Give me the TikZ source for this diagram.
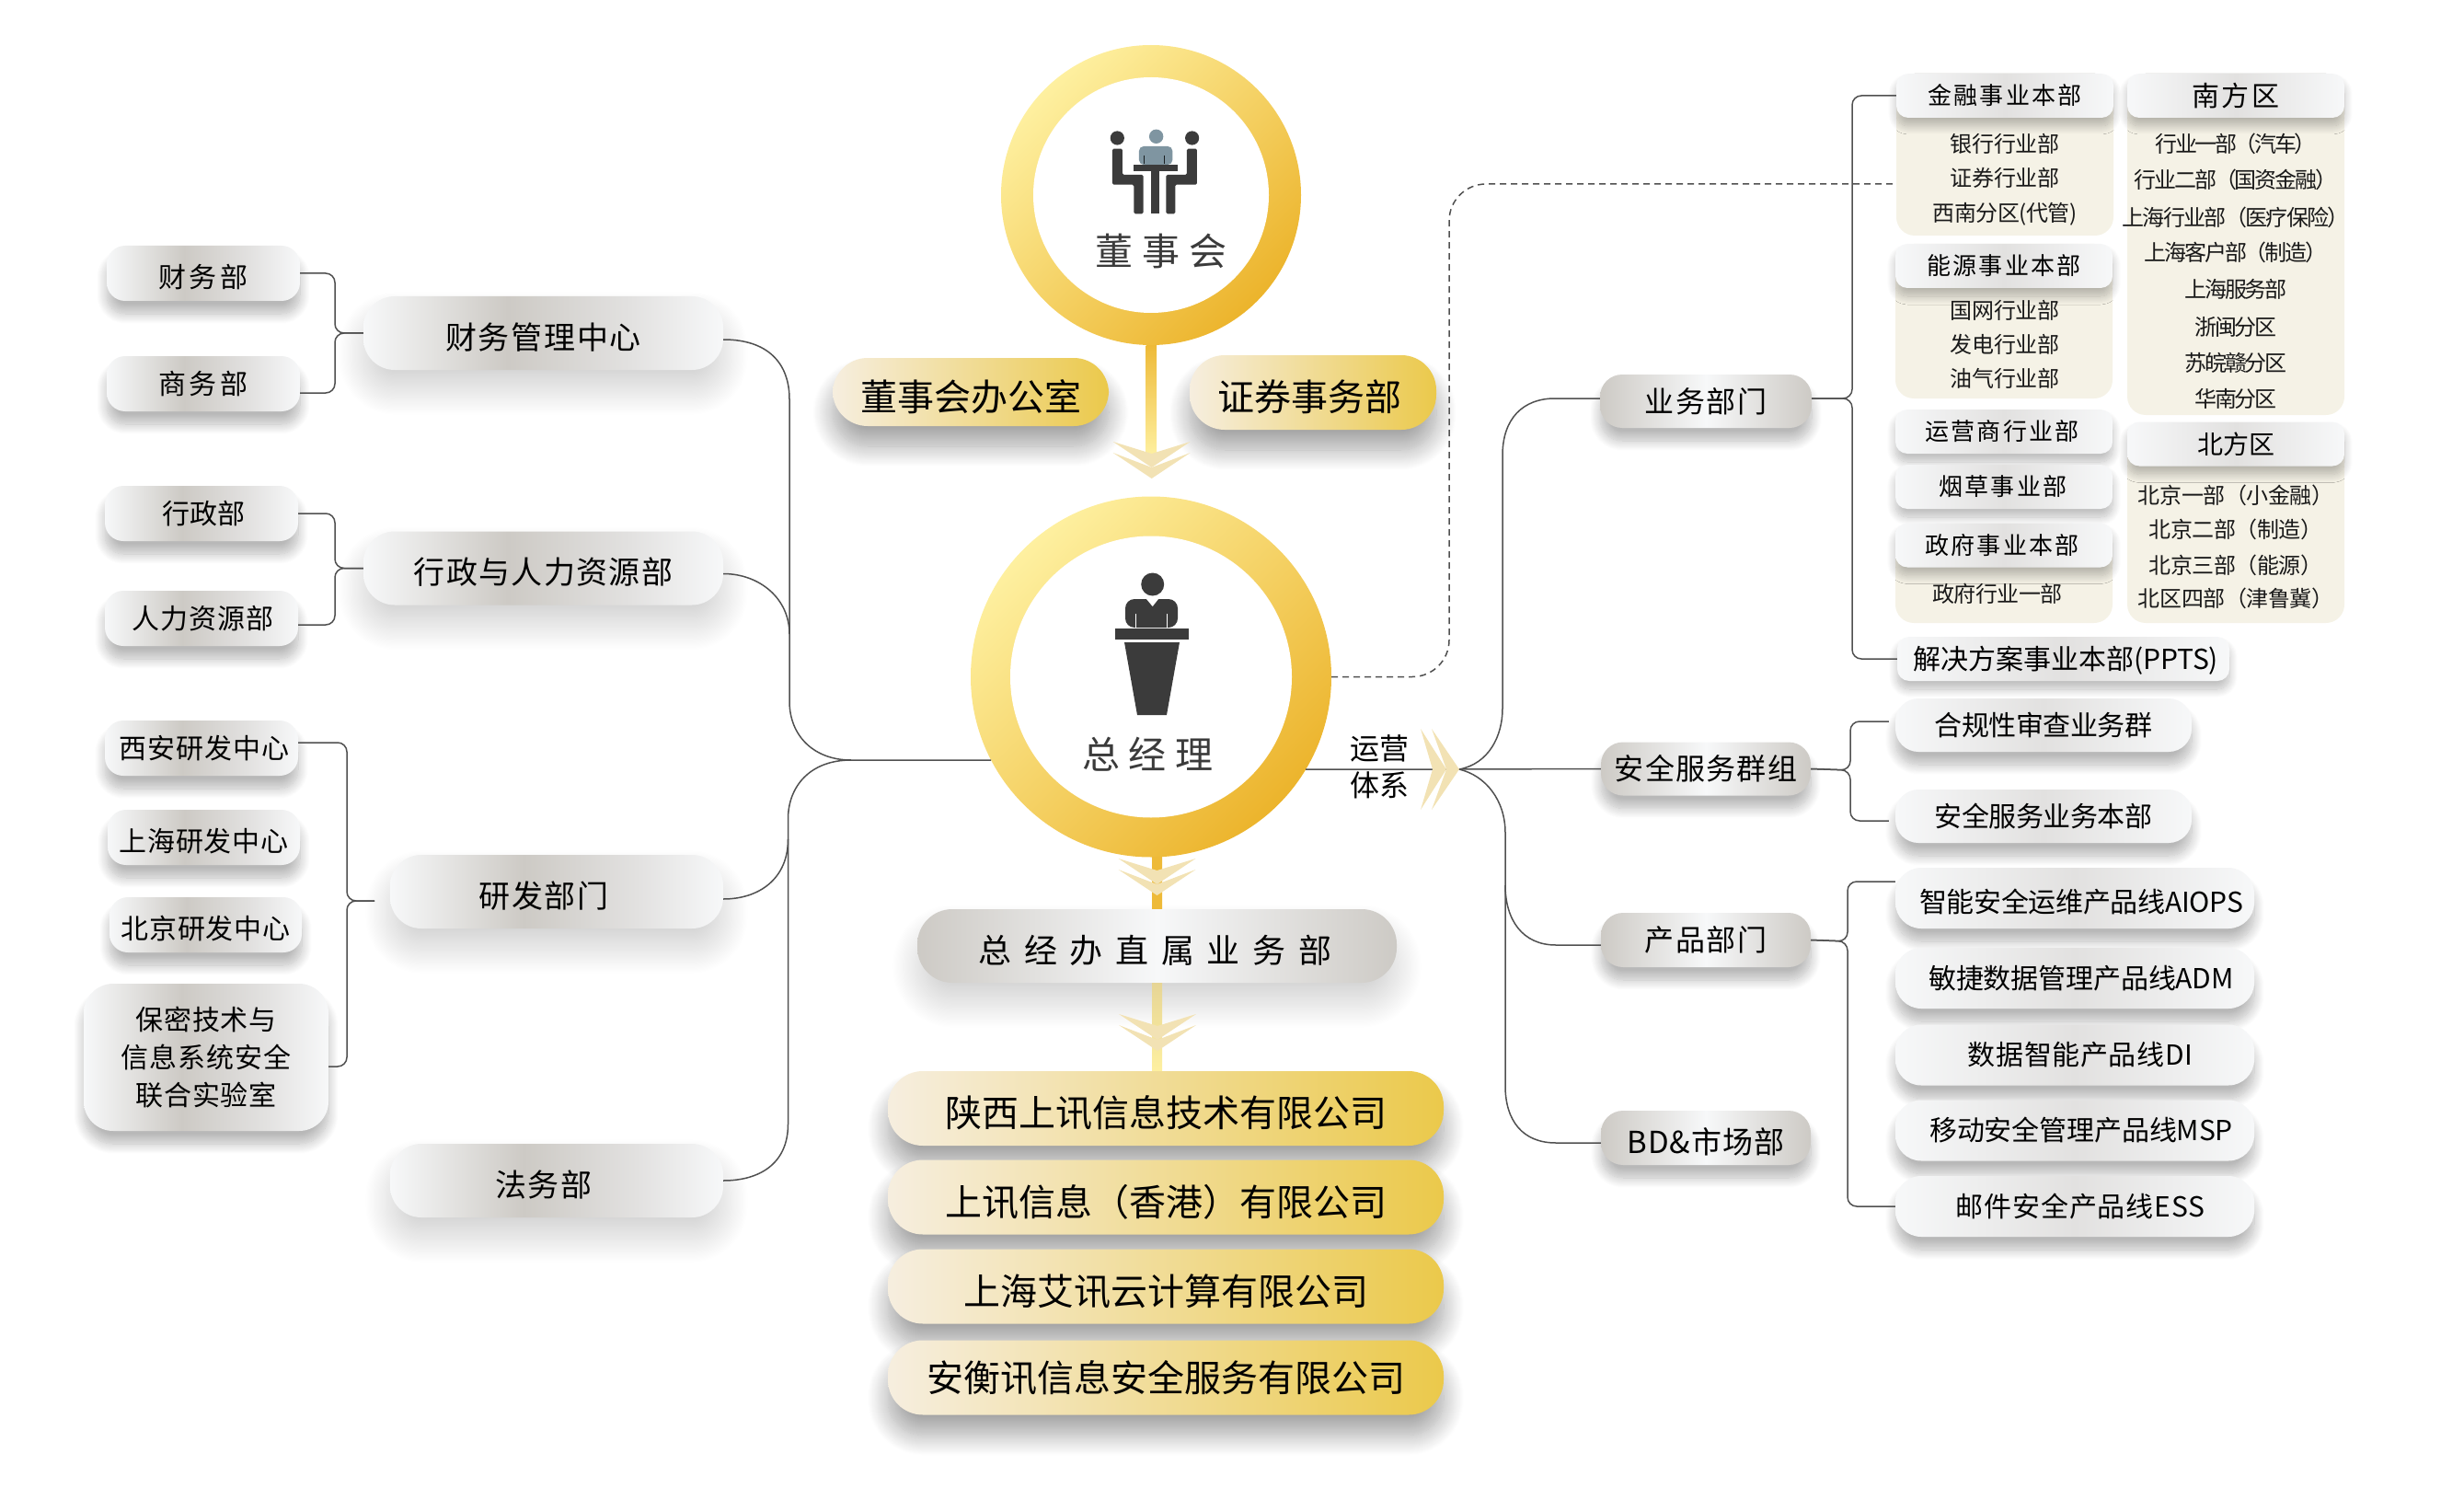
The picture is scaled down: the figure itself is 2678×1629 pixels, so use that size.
\documentclass[tikz,border=0pt]{standalone}
\usepackage{fontspec}
\setmainfont{Noto Sans CJK SC}
\usetikzlibrary{shadows.blur}
\definecolor{ringa}{HTML}{FEF0A0}
\definecolor{ringb}{HTML}{ECB42C}
\definecolor{silverhi}{HTML}{F7F8F9}
\definecolor{silvermid}{HTML}{E2E1E0}
\definecolor{silverlo}{HTML}{CDCAC5}
\definecolor{goldpale}{HTML}{F6EEDF}
\definecolor{goldfull}{HTML}{EBC94B}
\definecolor{chevend}{HTML}{F2E2B4}
\definecolor{chevbrown}{HTML}{DDB968}
\definecolor{chevyellow}{HTML}{E8C93F}
\definecolor{cream}{HTML}{F5F2E6}
\definecolor{wirecol}{HTML}{505050}
\definecolor{iconcol}{HTML}{3B3B3B}
\definecolor{persongrey}{HTML}{7F95A1}
\pgfdeclarehorizontalshading{sidegrad}{100bp}{color(0bp)=(silverhi); color(25bp)=(silverhi); color(45bp)=(silverlo); color(62bp)=(silvermid); color(75bp)=(silverhi); color(100bp)=(silverhi)}
\newcommand{\nudge}[1]{\kern#1pt}
\tikzset{
  txt/.style 2 args={font={\fontsize{#1}{#1}\selectfont\addfontfeatures{LetterSpace=#2}},text height=1.1*#1pt,text depth=.08*#1pt},
  txtc/.style 2 args={font={\fontsize{#1}{#1}\selectfont\addfontfeatures{LetterSpace=#2}},text height=.88*#1pt,text depth=.12*#1pt},
  sz/.style 2 args={rectangle,inner sep=0pt,minimum width=#1,minimum height=#2},
  softshadow/.style={blur shadow={shadow xshift=0pt,shadow yshift=-22pt,shadow blur radius=28pt,shadow opacity=18,shadow blur steps=24}},
  smallshadow/.style={blur shadow={shadow xshift=0pt,shadow yshift=-14pt,shadow blur radius=11pt,shadow opacity=28,shadow blur steps=14}},
  headshadow/.style={blur shadow={shadow xshift=0pt,shadow yshift=-9pt,shadow blur radius=9pt,shadow opacity=26,shadow blur steps=14}},
  goldshadow/.style={blur shadow={shadow xshift=0pt,shadow yshift=-22pt,shadow blur radius=22pt,shadow opacity=36,shadow blur steps=24}},
  sidepill/.style={shade,shading=sidegrad,rounded corners=#1},
  lightpill/.style={left color=silverhi,right color=silverhi,middle color=silvermid,rounded corners=#1},
  darkpill/.style={left color=silverlo,right color=silverlo,middle color=silverhi,rounded corners=#1},
  goldpill/.style={left color=goldpale,right color=goldfull,rounded corners=38pt,goldshadow},
  bodybox/.style={fill=cream,rounded corners=20pt},
  bodytxt/.style={inner sep=0pt,text=black!90},
  ring/.style={circle,inner sep=0pt,minimum size=#1,top color=ringa,bottom color=ringb,shading angle=45},
  hole/.style={circle,inner sep=0pt,fill=white,minimum size=#1},
  wire/.style={draw=wirecol,line width=1.5pt},
  chevdown/.pic={
    \shade[left color=chevend,middle color=chevbrown,right color=chevend] (-42,0) -- (0,13) -- (42,0) -- (0,28) -- cycle;
    \shade[left color=chevend,middle color=chevyellow,right color=chevend] (-42,12) -- (0,28) -- (42,12) -- (0,40) -- cycle;
  },
  chevright/.pic={
    \shade[top color=chevend,middle color=chevbrown,bottom color=chevend] (0,-44) -- (13,0) -- (0,44) -- (28,0) -- cycle;
    \shade[top color=chevend,middle color=chevyellow,bottom color=chevend] (12,-44) -- (28,0) -- (12,44) -- (42,0) -- cycle;
  },
}
\begin{document}
\begin{tikzpicture}[x=1pt,y=-1pt]
\useasboundingbox (0,0) rectangle (2678,1629);
% left side
\node[sz={210}{60},smallshadow,sidepill=20pt,txt={30}{11}] (caiwu) at (221,297) {财务部};
\node[sz={210}{60},smallshadow,sidepill=20pt,txtc={30}{11}] (shangwu) at (221,417) {商务部};
\node[sz={391}{80},softshadow,sidepill=34pt,txt={34}{5}] (mgr) at (590.5,362) {财务管理中心};
\node[sz={210}{60},smallshadow,sidepill=20pt,txtc={30}{1}] (xingzheng) at (219,558) {\nudge{5}行政部};
\node[sz={210}{60},smallshadow,sidepill=20pt,txtc={30}{3}] (renli) at (219,672) {\nudge{3}人力资源部};
\node[sz={391}{80},softshadow,sidepill=34pt,txt={34}{4}] (hr) at (590.5,617.5) {行政与人力资源部};
\node[sz={210}{60},smallshadow,sidepill=20pt,txtc={30}{3}] (xian) at (219,813) {\nudge{6}西安研发中心};
\node[sz={209}{60},smallshadow,sidepill=20pt,txt={30}{3}] (shanghai) at (221.5,910) {上海研发中心};
\node[sz={209}{60},smallshadow,sidepill=20pt,txt={30}{3}] (beijing) at (223.5,1005) {北京研发中心};
\node[sz={266}{160},smallshadow,sidepill=32pt,align=center,font={\fontsize{30}{41}\selectfont\addfontfeatures{LetterSpace=3}}] (baomi) at (224,1149) {保密技术与\\信息系统安全\\联合实验室};
\node[sz={362}{80},softshadow,sidepill=34pt,txt={34}{4}] (rd) at (605,969) {研发部门\nudge{28}};
\node[sz={362}{80},softshadow,sidepill=34pt,txt={34}{4}] (legal) at (605,1283) {法务部\nudge{28}};
% centre
\node[ring=326pt] (board) at (1251,212) {};
\node[hole=256pt] (boardin) at (1251,212) {};
\node[inner sep=0pt,text=iconcol,txtc={41}{24}] (boardtxt) at (1262,273) {董事会};
\node[sz={300}{74},goldpill,txt={40}{0}] (office) at (1055,426) {董事会办公室};
\node[sz={268}{81},goldpill,txt={40}{0}] (sec) at (1427,426.5) {证券事务部\nudge{8}};
\node[ring=392pt] (gm) at (1251,735.5) {};
\node[hole=306pt] (gmin) at (1251,735.5) {};
\node[inner sep=0pt,text=iconcol,txtc={41}{24}] (gmtxt) at (1247.5,820) {总经理};
\node[sz={521}{80},darkpill=38pt,softshadow,txt={36}{38}] (sub) at (1257.5,1028) {总经办直属业务部\nudge{4}};
\node[sz={604}{81},goldpill,txt={40}{0}] (coa) at (1267,1204.5) {陕西上讯信息技术有限公司};
\node[sz={604}{81},goldpill,txt={40}{0}] (cob) at (1267,1301) {上讯信息（香港）有限公司};
\node[sz={604}{81},goldpill,txt={40}{0}] (coc) at (1267,1398) {上海艾讯云计算有限公司};
\node[sz={604}{81},goldpill,txtc={40}{0}] (cod) at (1267,1497) {安衡讯信息安全服务有限公司};
% board icon
\begin{scope}[shift={(1000,20)},x=.3333pt,y=-.3333pt]
\fill[iconcol] (643,390) circle[radius=7.6pt] (887,390) circle[radius=7.6pt];
\fill[persongrey] (770,385) circle[radius=7.7pt];
\fill[persongrey,rounded corners=5pt] (714,477) -- (714,417) -- (823,417) -- (823,477) -- cycle;
\draw[black!80!persongrey,line width=1pt] (731,447) -- (731,474) (796,447) -- (796,474);
\fill[iconcol,rounded corners=1.5pt] (627,425) -- (660,425) -- (660,510) -- (728,510) -- (728,637) -- (697,637) -- (697,542) -- (627,542) -- cycle;
\fill[iconcol,rounded corners=1.5pt] (903,425) -- (870,425) -- (870,510) -- (802,510) -- (802,637) -- (832,637) -- (832,542) -- (903,542) -- cycle;
\fill[iconcol] (695,477) rectangle (840,498);
\fill[iconcol] (753,498) rectangle (780,637);
\end{scope}
% speaker icon
\fill[iconcol] (1252.7,635) circle[radius=12.5pt];
\fill[iconcol,rounded corners=10pt] (1223,682) -- (1223,651) -- (1280,651) -- (1280,682) -- cycle;
\fill[white] (1246,651) -- (1252.7,659) -- (1259,651) -- cycle;
\fill[iconcol] (1212,683) rectangle (1291.5,695);
\fill[iconcol] (1222,698) -- (1282,698) -- (1268,777) -- (1236,777) -- cycle;
\draw[white,line width=1.2pt] (1234.4,667) -- (1234.4,683) (1268.8,667) -- (1268.8,683);
\node[inner sep=0pt,align=center,font={\fontsize{32}{40}\selectfont}] (ops) at (1499,833) {运营\\体系};
% right side
\node[sz={230}{58},darkpill=24pt,smallshadow,txtc={32}{5}] (biz) at (1854,436) {业务部门};
\node[sz={228}{58},darkpill=24pt,smallshadow,txtc={32}{4}] (sfty) at (1854,835.5) {安全服务群组};
\node[sz={228}{59},darkpill=24pt,smallshadow,txtc={32}{5}] (prod) at (1854,1021.5) {产品部门};
\node[sz={228}{59},darkpill=24pt,smallshadow,txt={33}{3}] (bd) at (1854,1236.5) {BD\&市场部};
\node[sz={236}{176},bodybox] (finbody) at (2179,168) {};
\node[sz={236}{168},bodybox] (enbody) at (2178,349) {};
\node[sz={236}{108},bodybox] (govbody) at (2178,623) {};
\node[sz={236}{371},bodybox] (southbody) at (2430,265.5) {};
\node[sz={236}{218},bodybox] (northbody) at (2430,568) {};
\node[sz={236}{48},lightpill=13pt,headshadow,txtc={26}{8}] (fin) at (2179,104) {金融事业本部};
\node[sz={236}{48},lightpill=13pt,headshadow,txtc={26}{8}] (en) at (2178,289) {能源事业本部};
\node[sz={236}{48},lightpill=13pt,headshadow,txtc={26}{8}] (telco) at (2178,469) {运营商行业部\nudge{4}};
\node[sz={236}{48},lightpill=13pt,headshadow,txtc={26}{8}] (tobacco) at (2178,529) {烟草事业部\nudge{2}};
\node[sz={236}{48},lightpill=13pt,headshadow,txtc={26}{8}] (gov) at (2178,592.5) {政府事业本部\nudge{4}};
\node[sz={361}{48},lightpill=13pt,headshadow,txtc={30}{0}] (ppts) at (2242.5,716) {\nudge{5}解决方案事业本部(PPTS)};
\node[sz={236}{48},lightpill=13pt,headshadow,txtc={30}{8}] (south) at (2430,104) {南方区};
\node[sz={236}{48},lightpill=13pt,headshadow,txtc={28}{0}] (north) at (2430,482.5) {北方区};
\foreach \i/\t/\y in {a/银行行业部/156,b/证券行业部/193,c/西南分区(代管)/231}
  \node[bodytxt,txtc={24}{-2}] (fin\i) at (2179,\y) {\t};
\foreach \i/\t/\y in {a/国网行业部/337,b/发电行业部/374,c/油气行业部/411}
  \node[bodytxt,txtc={24}{-2}] (en\i) at (2179,\y) {\t};
\node[bodytxt,txtc={24}{-2}] (gova) at (2171,645) {政府行业一部};
\foreach \i/\t/\y/\s in {a/行业一部（汽车）/156/-10,b/行业二部（国资金融）/195/-9,c/上海行业部（医疗保险）/236/-7,d/上海客户部（制造）/274/-9,e/上海服务部/314.6/-9,f/浙闽分区/355/-9,g/苏皖赣分区/394/-9,h/华南分区/433/-9}
  \node[bodytxt,txtc={24}{\s}] (south\i) at (2430,\y) {\t};
\foreach \i/\t/\y in {a/北京一部（小金融）/538,b/北京二部（制造）/575,c/北京三部（能源）/614,d/北区四部（津鲁冀）/650}
  \node[bodytxt,txtc={24}{-2}] (north\i) at (2430,\y) {\t};
\node[sz={322}{58},lightpill=25pt,smallshadow,txtc={30}{-1.5}] (comp) at (2221,788) {合规性审查业务群};
\node[sz={322}{58},lightpill=25pt,smallshadow,txtc={30}{-1.5}] (safe) at (2221,887) {安全服务业务本部};
\node[sz={390}{66},lightpill=28pt,smallshadow,txt={30}{-1}] (aiops) at (2255,976) {\nudge{14}智能安全运维产品线AIOPS};
\node[sz={390}{66},lightpill=28pt,smallshadow,txtc={30}{-.5}] (adm) at (2255,1063) {\nudge{14}敏捷数据管理产品线ADM};
\node[sz={390}{66},lightpill=28pt,smallshadow,txtc={30}{2}] (di) at (2255,1146.5) {\nudge{12}数据智能产品线DI};
\node[sz={390}{66},lightpill=28pt,smallshadow,txtc={30}{-.5}] (msp) at (2255,1228.5) {\nudge{14}移动安全管理产品线MSP};
\node[sz={390}{66},lightpill=28pt,smallshadow,txtc={30}{3}] (ess) at (2255,1311) {\nudge{12}邮件安全产品线ESS};
% brackets
\coordinate (mgrfork) at (364,362);
\coordinate (hrfork) at (364,617.5);
\coordinate (rdfork) at (377,979);
\coordinate (rdstub) at (407,979);
\coordinate (bizfork) at (2013,433);
\coordinate (sftyfork) at (2011,837);
\coordinate (prodfork) at (2008,1023);
\draw[wire,rounded corners=10pt] (caiwu.east) -| (mgrfork) -- (mgr.west);
\draw[wire,rounded corners=10pt] ([yshift=-10pt]shangwu.east) -| (mgrfork) -- (mgr.west);
\draw[wire,rounded corners=10pt] (xingzheng.east) -| (hrfork) -- (hr.west);
\draw[wire,rounded corners=10pt] ([yshift=-7pt]renli.east) -| (hrfork) -- (hr.west);
\draw[wire,rounded corners=10pt] ([yshift=6pt]xian.east) -| (rdfork) -- (rdstub);
\draw[wire,rounded corners=10pt] ([yshift=-10pt]baomi.east) -| (rdfork) -- (rdstub);
\draw[wire,rounded corners=10pt] ([yshift=3pt]biz.east) -- (bizfork) |- (fin.west);
\draw[wire,rounded corners=10pt] ([yshift=3pt]biz.east) -- (bizfork) |- (ppts.west);
\draw[wire,rounded corners=10pt] (sfty.east) -- (sftyfork) |- ([xshift=-7pt,yshift=4pt]comp.west);
\draw[wire,rounded corners=10pt] (sfty.east) -- (sftyfork) |- ([xshift=-7pt,yshift=-5pt]safe.west);
\draw[wire,rounded corners=10pt] (prod.east) -- (prodfork) |- ([yshift=18pt]aiops.west);
\draw[wire,rounded corners=10pt] (prod.east) -- (prodfork) |- (ess.west);
% trunks
\coordinate (trunkl) at (925,826);
\coordinate (gmedgel) at (1077,826);
\coordinate (gmedger) at (1419,836);
\coordinate (hub) at (1586,836);
\draw[wire] ([yshift=-7pt]mgr.east) .. controls (835,369) and (858,395) .. (858,434) -- (858,762) .. controls (858,800) and (885,826) .. (trunkl) -- (gmedgel);
\draw[wire] ([yshift=-6pt]hr.east) .. controls (825,623.5) and (858,650) .. (858,689);
\draw[wire] ([yshift=-8pt]rd.east) .. controls (825,977) and (856.5,955) .. (856.5,912);
\draw[wire] (legal.east) .. controls (825,1283) and (856.5,1265) .. (856.5,1221.6) -- (856.5,890) .. controls (856.5,855) and (880,826) .. (trunkl);
\draw[wire] (gmedger) -- (hub) -- (sfty.west);
\draw[wire] (hub) .. controls (1618,830) and (1633,800) .. (1633,770) -- (1633,495) .. controls (1633,455) and (1655,433) .. (1690,433) -- ([yshift=3pt]biz.west);
\draw[wire] (hub) .. controls (1615,843) and (1636,870) .. (1636,905) -- (1636,962) .. controls (1636,1000) and (1655,1027) .. (1691,1027) -- ([yshift=-5.5pt]prod.west);
\draw[wire] (1636,962) -- (1636,1180) .. controls (1636,1218) and (1655,1242) .. (1691,1242) -- ([yshift=-5.5pt]bd.west);
\coordinate (dashturn) at (1575,200);
\draw[wire,dashed,dash pattern=on 7pt off 5pt,rounded corners=40pt] (gm.east) -| (dashturn) -- ([xshift=-4pt]dashturn -| finbody.west);
% gold bars
\coordinate (cheva) at (1251.7,480);
\coordinate (chevb) at (1257.5,933);
\coordinate (chevc) at (1258,1102);
\coordinate (chevd) at (1544,836);
\shade[top color=ringb!90!ringa,bottom color=ringa] ([xshift=-5.5pt]board.south) rectangle ([xshift=5.5pt,yshift=-15pt]cheva);
\shade[top color=ringb!90!ringa,bottom color=ringb!90!ringa] ([xshift=-5.5pt]chevb |- gm.south) rectangle ([xshift=5.5pt]chevb |- sub.north);
\shade[top color=silvermid!50!goldfull,bottom color=ringa] ([xshift=-5.5pt]sub.south) rectangle ([xshift=5.5pt]sub.south |- coa.north);
\pic at (cheva) {chevdown};
\pic at (chevb) {chevdown};
\pic at (chevc) {chevdown};
\pic at (chevd) {chevright};
\end{tikzpicture}
\end{document}
